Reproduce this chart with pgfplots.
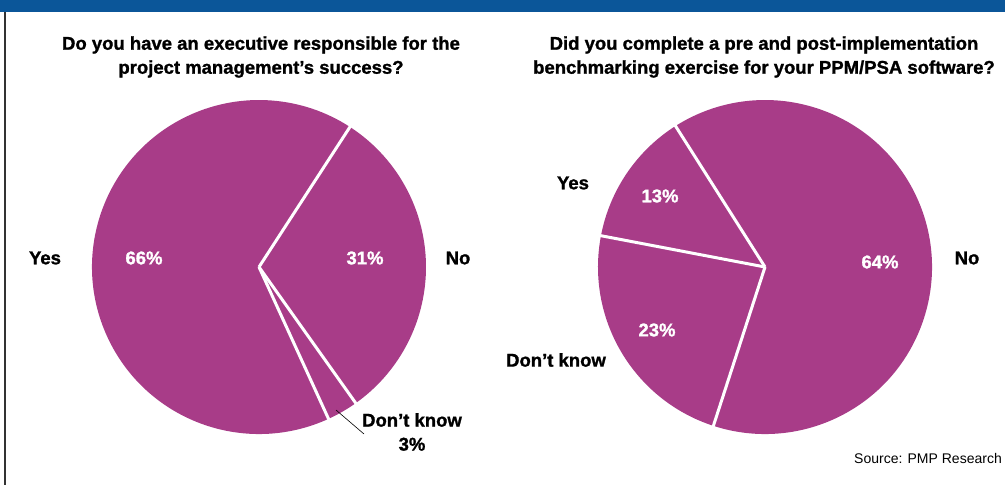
\documentclass[border=0pt]{standalone}
\usepackage{pgfplots}
\usepackage{pgfplotstable}
\pgfplotsset{compat=1.18}
\usepackage{fontspec}
\setmainfont{Liberation Sans}
\newfontfamily\heavy{Liberation Sans Bold}[FakeBold=1.2]
\definecolor{piecol}{HTML}{A83C88}
\definecolor{barblue}{HTML}{0B5699}

\pgfplotstableread{
label value
No 31
DontKnow 3
Yes 66
}\pieA
\pgfplotstableread{
label value
Yes 13
DontKnow 23
No 64
}\pieB

% #1 table, #2 cx, #3 cy, #4 start angle, #5 direction (+1 ccw, -1 cw), #6 radius
\newcommand\drawpie[6]{%
  \pgfplotstablegetrowsof{#1}\pgfmathtruncatemacro\nrows{\pgfplotsretval-1}%
  \pgfmathsetmacro\curang{#4}%
  \pgfplotsforeachungrouped \i in {0,...,\nrows}{%
    \pgfplotstablegetelem{\i}{value}\of{#1}%
    \pgfmathsetmacro\nextang{\curang+#5*3.6*\pgfplotsretval}%
    \edef\temp{\noexpand\fill[piecol] (axis cs:#2,#3) -- ++(\curang:#6pt) arc[start angle=\curang, end angle=\nextang, radius=#6pt] -- cycle;}%
    \temp
    \global\let\curang\nextang
  }%
  \pgfmathsetmacro\curang{#4}%
  \pgfplotsforeachungrouped \i in {0,...,\nrows}{%
    \pgfplotstablegetelem{\i}{value}\of{#1}%
    \pgfmathsetmacro\nextang{\curang+#5*3.6*\pgfplotsretval}%
    \edef\temp{\noexpand\draw[white, line width=3pt] (axis cs:#2,#3) -- ++(\curang:#6pt+1pt);}%
    \temp
    \global\let\curang\nextang
  }%
}

\begin{document}
\begin{tikzpicture}
\begin{axis}[
  width=1005pt, height=485pt, scale only axis,
  xmin=0, xmax=1005, ymin=0, ymax=485, y dir=reverse,
  hide axis, clip=false,
]
\fill[barblue] (axis cs:0,0) rectangle (axis cs:1005,12);
\draw[black!80, line width=1.2pt] (axis cs:5,12) -- (axis cs:5,485);

\drawpie{\pieA}{259}{267}{57}{-1}{167}
\drawpie{\pieB}{765}{267}{122.4}{1}{167}

\tikzset{lab/.style={font=\fontsize{18.5}{24}\selectfont\heavy, align=center, inner sep=0pt}}
\tikzset{pct/.style={lab, text=white}}

\node[lab] at (axis cs:261,57) {Do you have an executive responsible for the\\project management’s success?};
\node[lab] at (axis cs:764,57) {Did you complete a pre and post-implementation\\benchmarking exercise for your PPM/PSA software?};

\node[lab] at (axis cs:45,258) {Yes};
\node[pct] at (axis cs:144,258) {66\%};
\node[pct] at (axis cs:365,258) {31\%};
\node[lab] at (axis cs:458,258) {No};
\node[lab] at (axis cs:412,432) {Don’t know\\3\%};
\draw[black, line width=0.6pt] (axis cs:336,410) -- (axis cs:364,434);

\node[lab] at (axis cs:573,183) {Yes};
\node[pct] at (axis cs:660,196) {13\%};
\node[pct] at (axis cs:657,330) {23\%};
\node[lab] at (axis cs:556,360) {Don’t know};
\node[pct] at (axis cs:880,262) {64\%};
\node[lab] at (axis cs:967,258) {No};

\node[anchor=east, inner sep=0pt, font=\fontsize{14}{16}\selectfont] at (axis cs:1002,458) {Source: PMP Research};
\end{axis}
\end{tikzpicture}
\end{document}
